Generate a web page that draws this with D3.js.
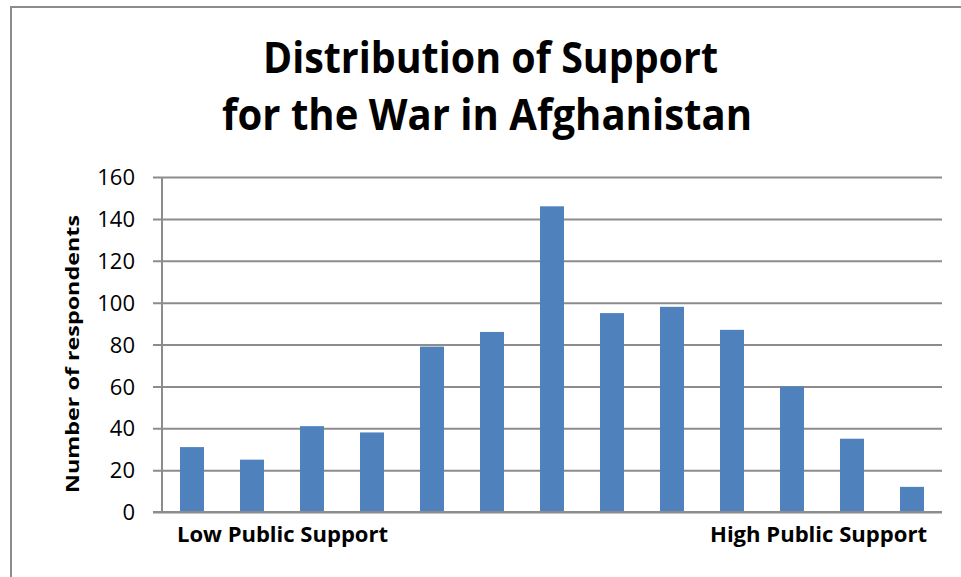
<!DOCTYPE html>
<html>
<head>
<meta charset="utf-8">
<script src="https://cdn.jsdelivr.net/npm/d3@7"></script>
<style>
  html, body { margin: 0; padding: 0; background: #fff; }
  svg { display: block; }
  text { font-family: "Open Sans", "Liberation Sans", sans-serif; fill: #000; }
</style>
</head>
<body>
<svg id="chart" width="961" height="577"></svg>
<script>
// Support scale from low (1) to high (13)
const categories = [1, 2, 3, 4, 5, 6, 7, 8, 9, 10, 11, 12, 13];
const respondents = [31, 25, 41, 38, 79, 86, 146, 95, 98, 87, 60, 35, 12];
const yTicks = [0, 20, 40, 60, 80, 100, 120, 140, 160];
const endLabels = ["Low Public Support", "High Public Support"];
const titleLines = ["Distribution of Support", "for the War in Afghanistan"];
const yTitle = "Number of respondents";

const svg = d3.select("#chart");
const plot = { left: 162, right: 942, top: 177, bottom: 512 };

// outer chart frame
svg.append("rect")
  .attr("x", 11).attr("y", 7)
  .attr("width", 980).attr("height", 620)
  .attr("fill", "none")
  .attr("stroke", "#8c8c8c")
  .attr("stroke-width", 2);

const x = d3.scaleBand()
  .domain(categories)
  .range([plot.left, plot.right])
  .paddingInner(0.6)
  .paddingOuter(0.3);

const y = d3.scaleLinear()
  .domain([0, 160])
  .range([plot.bottom, plot.top]);

// horizontal gridlines with short outside ticks
const yAxis = d3.axisLeft(y)
  .tickValues(yTicks)
  .tickSize(-(plot.right - plot.left))
  .tickSizeOuter(0)
  .tickPadding(27)
  .tickFormat(d3.format("d"));

const gy = svg.append("g")
  .attr("transform", `translate(${plot.left},0)`)
  .call(yAxis);
gy.select(".domain").remove();
gy.selectAll(".tick line")
  .attr("x1", -9)
  .attr("stroke", "#8c8c8c")
  .attr("stroke-width", 2);
gy.selectAll(".tick text")
  .style("font-family", "'Open Sans', sans-serif")
  .style("font-size", "22px")
  .attr("fill", "#000")
  .attr("dy", "0.35em");

// vertical axis line
svg.append("line")
  .attr("x1", plot.left).attr("x2", plot.left)
  .attr("y1", plot.top).attr("y2", plot.bottom)
  .attr("stroke", "#8c8c8c")
  .attr("stroke-width", 2);

// bars
svg.append("g")
  .selectAll("rect")
  .data(categories)
  .join("rect")
  .attr("x", d => x(d))
  .attr("y", (d, i) => y(respondents[i]))
  .attr("width", x.bandwidth())
  .attr("height", (d, i) => y(0) - y(respondents[i]))
  .attr("fill", "#4f81bd");

// baseline drawn over the bars
svg.append("line")
  .attr("x1", plot.left - 9).attr("x2", plot.right)
  .attr("y1", plot.bottom).attr("y2", plot.bottom)
  .attr("stroke", "#8c8c8c")
  .attr("stroke-width", 2);

// end labels for the support scale
const first = categories[0], last = categories[categories.length - 1];
svg.append("text")
  .attr("x", x(first) - 3)
  .attr("y", 542)
  .attr("text-anchor", "start")
  .style("font-weight", "bold")
  .style("font-size", "22px")
  .attr("textLength", 211)
  .attr("lengthAdjust", "spacingAndGlyphs")
  .text(endLabels[0]);
svg.append("text")
  .attr("x", x(last) + x.bandwidth() + 3 - 217)
  .attr("y", 542)
  .attr("text-anchor", "start")
  .style("font-weight", "bold")
  .style("font-size", "22px")
  .attr("textLength", 217)
  .attr("lengthAdjust", "spacingAndGlyphs")
  .text(endLabels[1]);

// y axis title
svg.append("text")
  .attr("transform", "translate(79,493) rotate(-90)")
  .attr("text-anchor", "start")
  .style("font-weight", "bold")
  .style("font-size", "17px")
  .attr("textLength", 278)
  .attr("lengthAdjust", "spacingAndGlyphs")
  .text(yTitle);

// chart title
const titleSpec = [
  { x: 263, y: 73, w: 455 },
  { x: 222, y: 130, w: 530 }
];
titleLines.forEach((t, i) => {
  svg.append("text")
    .attr("x", titleSpec[i].x)
    .attr("y", titleSpec[i].y)
    .style("font-weight", "bold")
    .style("font-size", "43px")
    .attr("textLength", titleSpec[i].w)
    .attr("lengthAdjust", "spacingAndGlyphs")
    .text(t);
});
</script>
</body>
</html>
